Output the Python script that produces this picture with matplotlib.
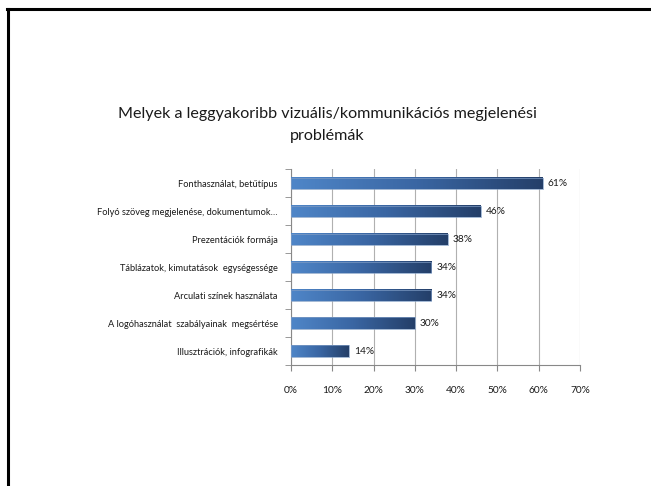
import matplotlib
matplotlib.use("Agg")
import matplotlib.pyplot as plt
import numpy as np
from matplotlib.colors import LinearSegmentedColormap
from matplotlib.lines import Line2D

categories = [
    "Fonthasználat, betűtípus",
    "Folyó szöveg megjelenése, dokumentumok…",
    "Prezentációk formája",
    "Táblázatok, kimutatások  egységessége",
    "Arculati színek használata",
    "A logóhasználat  szabályainak  megsértése",
    "Illusztrációk, infografikák",
]
values = [61, 46, 38, 34, 34, 30, 14]
xticks = [0, 10, 20, 30, 40, 50, 60, 70]
title = "Melyek a leggyakoribb vizuális/kommunikációs megjelenési\nproblémák"

plt.rcParams['font.family'] = ['Lato', 'DejaVu Sans']

fig = plt.figure(figsize=(6.51, 4.86), dpi=100)
fig.patch.set_facecolor("white")

W, H = 651, 486
ax = fig.add_axes([291 / W, 1 - 365 / H, (580 - 291) / W, (365 - 169.3) / H])

cmap = LinearSegmentedColormap.from_list("g", ["#4f86c8", "#3a66a3", "#243f69"])
grad = np.linspace(0, 1, 256).reshape(1, -1)
n = len(categories)
ys = np.arange(n)[::-1]
bh = 0.4
for y, v in zip(ys, values):
    ax.imshow(grad, cmap=cmap, aspect="auto", extent=[0, v, y - bh / 2, y + bh / 2],
              interpolation="bicubic", zorder=3)
    ax.add_patch(plt.Rectangle((0, y - bh / 2), v, bh, fill=False, edgecolor="#7f9cc4",
                               linewidth=0.5, zorder=4))
    ax.text(v + 1.2, y, f"{v}%", va="center", ha="left", fontsize=7.3, color="#1a1a1a", zorder=5)

ax.set_xlim(0, 70)
ax.set_ylim(-0.5, n - 0.5)
ax.set_xticks(xticks)
ax.set_xticklabels([f"{t}%" for t in xticks], fontsize=7.3, color="#1a1a1a")
ax.set_yticks(ys)
ax.set_yticklabels(categories, fontsize=6.7, color="#1a1a1a")
ax.tick_params(axis="y", length=0, pad=9.5)
ax.set_yticks(np.arange(-0.5, n, 1.0), minor=True)
ax.tick_params(axis="y", which="minor", length=4, color="#888888", direction="out")
ax.tick_params(axis="x", length=4, color="#888888", direction="out", pad=11)
ax.grid(axis="x", color="#b0b0b0", linewidth=0.8, zorder=0)
ax.set_axisbelow(True)
for s in ["top", "right"]:
    ax.spines[s].set_visible(False)
for s in ["left", "bottom"]:
    ax.spines[s].set_color("#888888")
    ax.spines[s].set_linewidth(0.8)

fig.text(327 / W, 1 - 125 / H, title, ha="center", va="center", fontsize=11.6,
         color="#1a1a1a", linespacing=1.8)

# page border
fig.add_artist(Line2D([8 / W, 8 / W], [0, 1 - 9 / H], transform=fig.transFigure,
                      color="black", linewidth=2.2))
fig.add_artist(Line2D([7 / W, 1], [1 - 9 / H, 1 - 9 / H], transform=fig.transFigure,
                      color="black", linewidth=2.2))

fig.savefig("out.png", dpi=100)
